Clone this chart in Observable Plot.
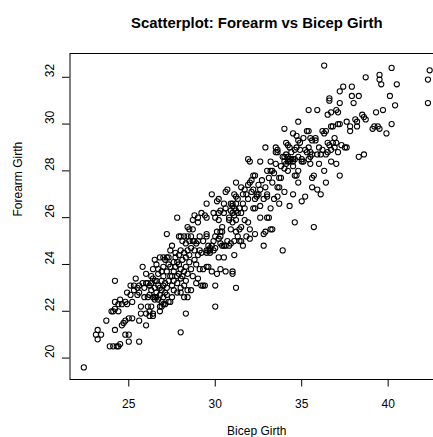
<!DOCTYPE html>
<html><head><meta charset="utf-8">
<script src="https://cdn.jsdelivr.net/npm/d3@7"></script>
<script src="https://cdn.jsdelivr.net/npm/@observablehq/plot@0.6"></script>
<style>
html,body{margin:0;padding:0;background:#fff;overflow:hidden;}
#chart svg{max-width:none !important;}
</style></head><body><div id="chart"></div>
<script>
const title = "Scatterplot: Forearm vs Bicep Girth";
const xLabel = "Bicep Girth";
const yLabel = "Forearm Girth";
const xTicks = [25, 30, 35, 40];
const yTicks = [20, 22, 24, 26, 28, 30, 32];

const bicepGirth = [
22.4,23.1,23.2,23.4,23.2,23.7,24.0,24.1,24.2,24.2,
24.2,23.9,24.1,24.3,24.5,24.4,24.2,24.4,24.5,24.6,
24.8,24.9,24.7,24.8,25.0,24.8,25.0,25.0,24.9,24.6,
25.1,25.1,25.2,24.4,25.4,25.5,25.5,25.6,25.2,25.6,
25.6,25.7,25.8,26.0,26.0,25.9,26.1,25.3,25.6,25.8,
25.9,26.0,26.1,26.2,26.3,26.3,26.4,26.4,26.5,26.4,
26.2,26.4,26.5,26.5,26.6,26.6,26.7,26.7,26.7,26.8,
26.8,26.8,26.9,26.9,26.9,27.0,27.0,27.0,27.1,27.1,
27.1,27.2,27.2,27.3,27.3,26.6,26.5,26.8,26.9,27.0,
26.6,26.7,26.5,26.4,26.3,26.2,27.4,27.0,27.2,27.3,
27.1,27.2,27.5,27.7,27.7,27.8,28.0,26.9,27.2,27.4,
27.4,27.5,27.6,27.6,27.7,27.8,27.8,27.9,27.9,28.0,
28.0,28.0,28.1,28.1,28.2,28.2,28.3,28.3,28.4,28.4,
28.4,28.3,27.5,27.3,27.8,28.2,28.4,28.0,28.3,28.7,
28.7,28.7,28.8,28.9,29.1,29.2,28.9,29.0,29.1,29.2,
29.3,29.4,29.2,29.4,29.5,29.5,29.5,29.5,29.6,29.7,
29.7,29.6,29.8,28.5,28.6,28.4,28.5,28.6,28.8,28.9,
29.0,28.3,28.5,28.6,29.0,29.3,29.5,29.5,29.6,29.7,
29.8,29.3,29.5,29.8,28.7,28.2,28.0,27.9,28.1,28.5,
29.0,29.0,28.8,30.0,30.0,30.1,30.2,30.2,30.2,30.3,
30.4,30.3,30.1,30.3,30.5,30.4,30.5,30.6,30.6,30.5,
30.8,30.9,31.0,31.1,31.2,31.2,31.3,31.1,31.0,31.0,
31.1,31.2,31.4,31.5,31.6,31.4,31.6,31.7,31.7,31.9,
32.0,32.0,30.9,31.0,31.0,31.1,31.2,31.2,31.3,30.9,
31.0,31.2,29.9,30.0,30.1,30.2,30.3,30.6,30.7,30.4,
30.0,29.9,30.2,30.6,30.8,31.1,31.3,30.5,30.3,30.0,
29.9,30.7,31.4,31.5,31.5,31.8,30.8,31.6,31.9,32.0,
31.9,32.0,32.1,32.1,32.2,32.3,32.3,32.4,32.2,32.3,
32.3,32.5,32.6,32.5,32.6,32.6,32.6,32.8,32.9,32.8,
32.9,33.0,33.0,33.0,33.2,33.3,33.4,33.0,33.1,33.2,
33.3,33.2,33.2,33.5,33.6,33.5,33.6,33.5,33.6,33.7,
33.6,33.7,33.9,33.7,33.8,32.7,32.9,32.4,32.8,33.1,
32.2,33.3,33.4,31.8,31.9,33.9,34.0,34.1,34.2,34.3,
34.4,34.5,34.6,34.0,34.0,34.1,34.2,34.3,34.5,34.1,
34.2,34.0,34.2,34.3,34.5,34.5,34.6,34.7,34.6,34.7,
34.8,34.8,34.8,34.8,34.9,35.0,35.0,35.0,35.2,35.1,
35.1,35.2,35.3,35.3,35.4,35.4,35.4,35.5,35.5,35.6,
35.6,35.7,35.6,35.7,35.8,35.8,35.9,35.9,36.0,36.1,
36.1,36.2,36.3,36.3,36.3,36.4,36.5,36.6,36.4,36.5,
36.6,36.6,36.7,36.7,36.8,36.7,36.7,36.9,37.0,36.9,
37.0,37.1,37.0,37.1,37.2,37.1,37.2,37.2,37.2,37.4,
37.5,37.6,37.6,37.8,37.8,37.9,37.9,38.0,38.1,38.2,
38.2,38.3,38.3,38.5,38.6,38.7,38.6,38.7,39.1,39.2,
39.4,39.5,39.3,39.5,39.5,39.6,39.7,39.9,40.1,40.2,
40.2,40.4,40.5,42.3,42.4,42.3,34.4,34.6,34.7,34.3,
34.5,33.8,34.0,35.5,35.6,35.5,35.9,36.2,36.0,36.5,
36.4,35.4,34.9,34.8,36.8,37.3,26.0,26.3,25.7,25.3,
26.1,27.0,27.5,27.6,28.0,28.6,28.2,27.8,28.8,28.4,
29.1,27.9,27.6,27.4,26.8,26.2,31.7,31.5,31.2,30.9
];

const forearmGirth = [
19.6,21.0,21.2,21.0,20.8,21.6,22.0,22.0,22.1,21.2,
23.3,20.5,20.5,20.5,20.6,20.5,22.4,22.3,22.5,22.3,
22.4,22.3,21.5,21.6,21.7,21.0,21.0,20.7,22.8,21.4,
23.1,22.7,22.4,22.0,23.4,23.0,22.7,23.1,21.7,21.6,
20.7,21.9,23.9,21.9,21.4,22.6,22.6,23.1,22.8,23.2,
23.0,23.2,23.2,23.1,23.2,22.2,21.8,23.4,24.2,23.8,
21.8,21.9,23.0,22.6,22.8,23.3,22.5,23.1,23.6,22.7,
23.0,22.2,22.9,23.3,22.4,23.1,22.6,23.5,22.8,23.2,
22.3,23.0,22.7,22.4,23.3,22.6,23.3,22.0,22.2,22.3,
24.0,23.8,22.5,22.6,22.9,22.7,22.4,24.3,24.3,24.3,
24.2,25.3,24.8,24.5,24.3,26.0,21.1,23.7,23.7,23.9,
23.5,23.1,23.7,23.3,23.9,23.5,23.2,24.0,23.6,23.4,
23.8,23.0,24.2,23.5,23.7,23.1,23.9,23.3,23.6,22.9,
22.6,21.9,23.5,24.0,24.1,25.2,25.2,25.2,24.9,25.9,
25.5,25.0,25.0,24.9,24.6,24.5,23.2,23.4,23.8,23.1,
23.1,23.1,26.2,26.1,26.0,26.6,25.3,25.2,24.8,24.6,
24.5,23.9,27.0,24.4,24.7,24.6,24.1,23.8,24.2,24.0,
24.4,24.3,25.0,25.2,25.0,25.0,24.6,24.5,24.6,24.7,
24.8,23.8,23.9,23.7,23.5,24.5,24.6,24.4,25.0,25.5,
25.8,26.0,26.1,23.1,22.2,26.7,26.8,26.2,25.9,25.4,
25.4,25.2,23.6,23.8,24.3,24.8,24.8,27.1,26.4,26.2,
25.9,25.5,26.6,27.0,26.9,27.5,26.8,26.4,23.7,23.6,
24.4,23.0,25.0,25.0,24.8,25.5,26.6,26.4,25.9,25.8,
25.5,25.1,26.6,26.2,26.5,26.1,26.3,26.6,26.2,26.3,
25.8,25.9,25.0,25.2,25.4,25.1,24.9,24.8,25.0,25.6,
24.7,24.6,24.3,23.7,24.8,25.0,25.2,26.6,26.3,26.0,
26.2,27.2,26.4,26.2,25.6,25.2,26.0,27.0,28.5,28.4,
27.4,27.5,27.6,27.1,27.8,27.8,26.8,26.9,26.4,26.4,
25.3,27.4,27.2,27.0,28.4,26.0,26.5,24.8,29.0,25.3,
25.4,26.9,27.0,28.0,28.0,28.0,27.9,26.0,26.0,25.5,
25.5,28.4,26.4,29.0,28.9,28.8,28.8,28.3,27.3,27.3,
26.9,26.6,24.6,27.7,27.7,27.6,27.3,27.0,26.8,27.7,
27.2,27.5,26.8,27.0,26.8,28.6,28.6,28.7,28.6,28.5,
28.5,28.5,28.5,29.8,28.4,28.3,28.4,28.4,28.4,29.2,
29.1,27.1,28.0,26.5,27.0,29.6,27.8,27.8,25.8,29.5,
30.1,29.3,27.5,28.0,28.9,28.5,28.4,26.7,26.9,29.4,
28.4,28.9,28.8,29.7,29.7,30.6,28.5,28.3,28.6,28.7,
27.7,27.8,27.3,25.6,29.4,29.3,30.6,27.2,29.0,28.7,
27.0,29.7,29.6,32.5,28.0,28.7,29.2,29.1,27.5,30.4,
31.0,31.1,30.5,29.9,29.9,28.4,28.9,29.0,29.2,29.4,
30.6,30.5,28.3,28.8,27.8,30.0,30.0,30.9,31.4,31.6,
29.0,29.0,30.1,29.7,29.9,31.6,31.2,30.9,30.2,30.1,
29.9,28.6,31.2,30.4,30.3,30.2,28.7,32.0,29.8,29.9,
29.9,29.8,30.5,32.1,31.9,31.7,30.6,29.6,31.2,30.0,
32.4,30.8,31.7,31.9,32.3,30.9,28.8,28.9,29.0,29.0,
28.2,28.2,28.1,29.4,29.3,28.8,28.7,28.9,28.3,28.8,
29.7,29.0,29.2,28.6,29.2,29.1,23.6,23.5,22.2,22.9,
22.2,23.9,22.6,22.9,22.8,22.9,22.6,22.8,24.6,25.6,
25.2,25.2,24.1,24.6,24.3,22.0,27.2,27.3,25.4,24.9
];

const data = bicepGirth.map((b, i) => ({bicep: b, forearm: forearmGirth[i]}));
const font = "'Liberation Sans', Arial, Helvetica, sans-serif";

const chart = Plot.plot({
  width: 450,
  height: 437,
  marginLeft: 69.5,
  marginRight: 7,
  marginTop: 53,
  marginBottom: 58,
  style: {fontFamily: font, fontSize: "12px", background: "white", color: "black", maxWidth: "none", overflow: "visible"},
  x: {domain: [21.6, 43.2], ticks: xTicks, tickSize: 7.5, tickPadding: 12.8, label: null},
  y: {domain: [19.084, 33.016], ticks: yTicks, tickSize: 7.5, tickFormat: () => "", label: null},
  marks: [
    Plot.frame({stroke: "black", strokeWidth: 1}),
    Plot.dot(data, {x: "bicep", y: "forearm", r: 2.6, stroke: "black", strokeWidth: 1.05, fill: "none"}),
    Plot.text(yTicks, {y: d => d, text: d => String(d), frameAnchor: "left", dx: -16.2, rotate: -90, lineAnchor: "bottom", fontSize: 12}),
    Plot.text([title], {text: d => d, frameAnchor: "top", dy: -25.7, lineAnchor: "bottom", fontWeight: "bold", fontSize: 14.9}),
    Plot.text([xLabel], {text: d => d, frameAnchor: "bottom", dy: 55, lineAnchor: "bottom", fontSize: 12}),
    Plot.text([yLabel], {text: d => d, frameAnchor: "left", dx: -48, rotate: -90, lineAnchor: "bottom", fontSize: 12})
  ]
});
document.getElementById("chart").appendChild(chart);
</script>
</body></html>
